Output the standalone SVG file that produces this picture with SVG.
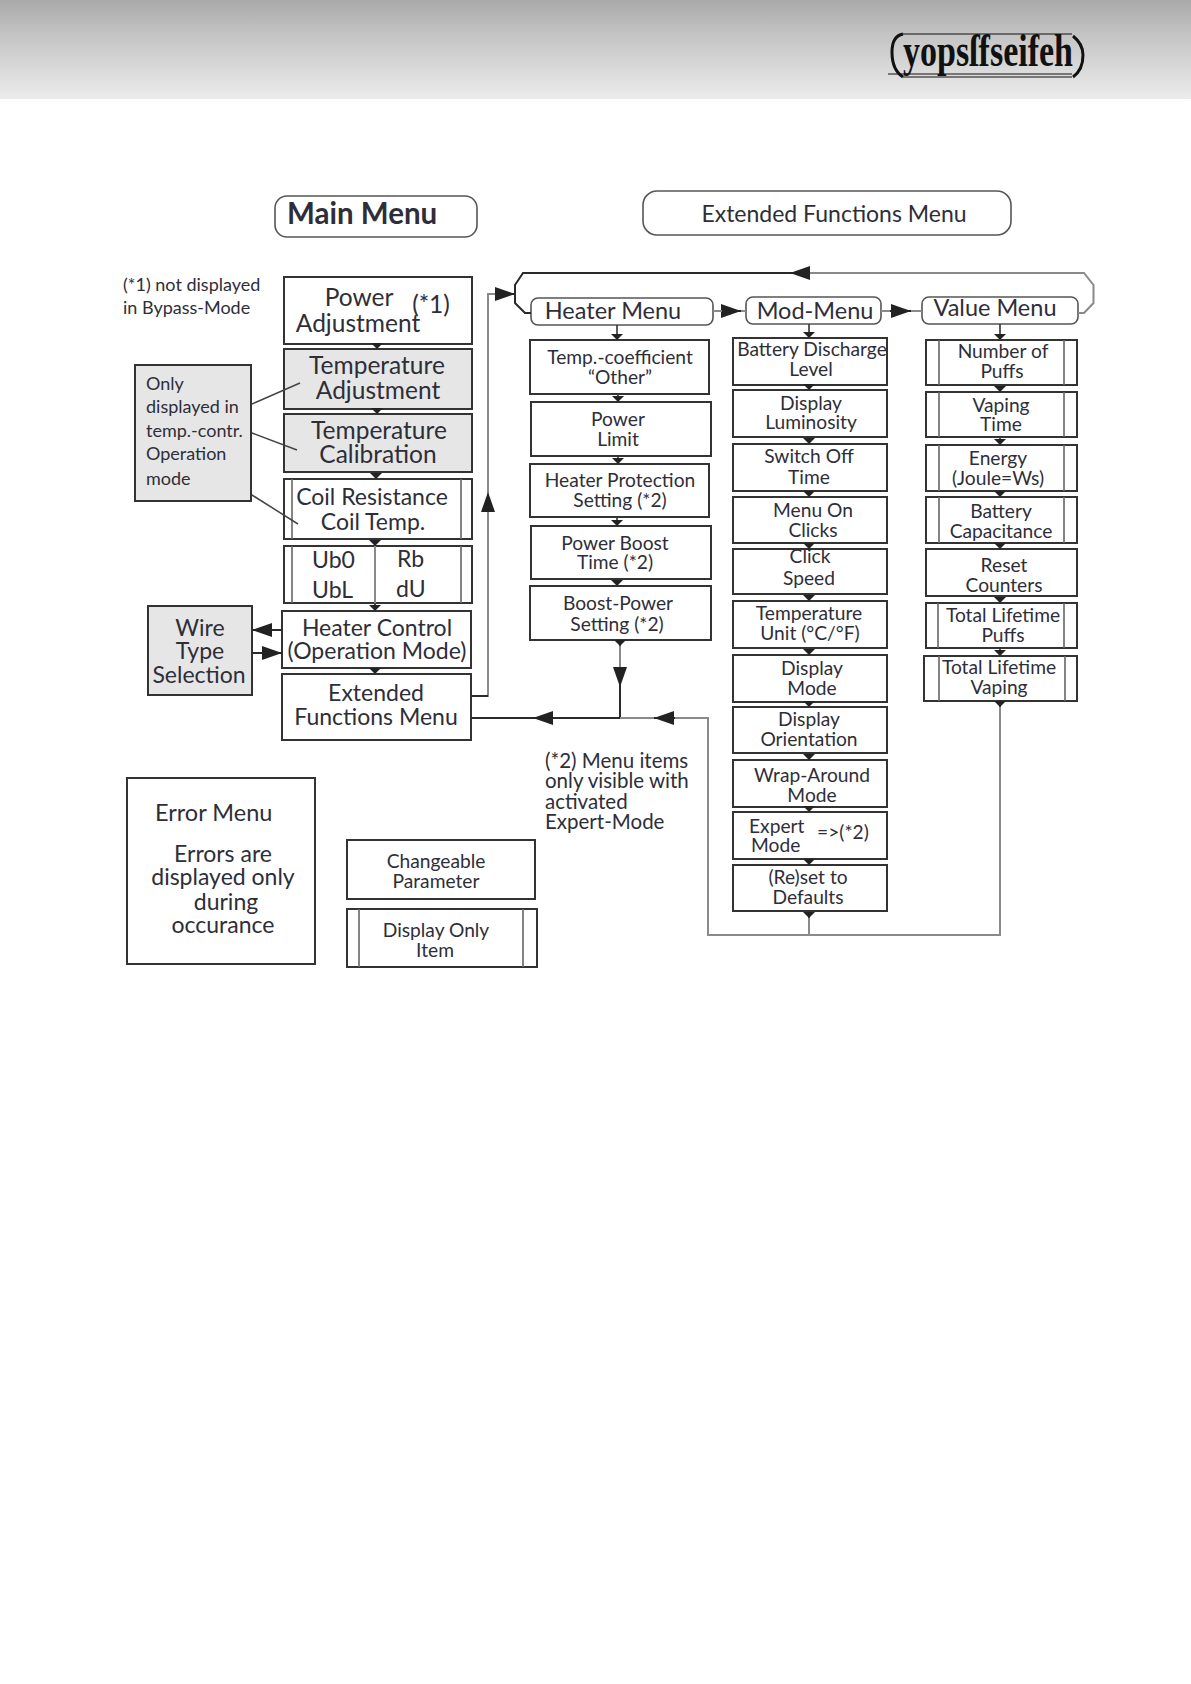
<svg xmlns="http://www.w3.org/2000/svg" width="1191" height="1684" viewBox="0 0 1191 1684">
<style>
text{font-family:"Lato","Carlito","Liberation Sans",sans-serif;fill:#2e2e38;text-anchor:middle}
.b{fill:#fff;stroke:#333;stroke-width:2}
.g{fill:#e6e6e6;stroke:#333;stroke-width:2}
.r{fill:#fff;stroke:#555;stroke-width:1.600}
.i{fill:none;stroke:#666;stroke-width:1.600}
.s{text-anchor:start}
.f24{font-size:24.500px}.f23{font-size:23.500px}.f22{font-size:23px}.f19{font-size:20.500px}.f18{font-size:19.200px}.f17{font-size:18px}
.c{fill:none;stroke:#8a8a8a;stroke-width:2}
.d{fill:none;stroke:#2a2a2a;stroke-width:2}
.k{fill:none;stroke:#333;stroke-width:1.600;marker-end:url(#sm)}
.l{fill:none;stroke:#444;stroke-width:1.500}
</style>
<defs>
<linearGradient id="hdr" x1="0" y1="0" x2="0" y2="1"><stop offset="0" stop-color="#a9a9a9"/><stop offset="0.35" stop-color="#c4c4c4"/><stop offset="1" stop-color="#ececec"/></linearGradient>
<marker id="sm" markerUnits="userSpaceOnUse" markerWidth="6" markerHeight="12" refX="6" refY="6" orient="auto"><path d="M0 0L6 6L0 12z" fill="#222"/></marker>
<marker id="bg" markerUnits="userSpaceOnUse" markerWidth="20" markerHeight="14" refX="20" refY="7" orient="auto"><path d="M0 0L20 7L0 14z" fill="#222"/></marker>
</defs>
<g id="header">
<rect x="0" y="0" width="1191" height="99" fill="url(#hdr)"/>
<path d="M903 34H1072M888 74H1072M903 77H1072" fill="none" stroke="#111" stroke-width="1.200"/>
<path d="M903 34Q892 36 892 52Q892 70 903 77M1073 36Q1083 44 1083 55Q1083 70 1073 77" fill="none" stroke="#111" stroke-width="3"/>
<text x="988" y="66" font-size="46" font-weight="700" textLength="170" lengthAdjust="spacingAndGlyphs" style="font-family:'Liberation Serif',serif;fill:#111">yopsſfseifeh</text>
</g>

<g id="main-menu-title"><rect class="r" x="275" y="196" width="202" height="41" rx="12"/><text class="s" x="287" y="224" font-size="29.500" font-weight="700">Main Menu</text></g>
<g id="ext-menu-title"><rect class="r" x="643" y="191" width="368" height="44" rx="14"/><text class="f22" x="834" y="222">Extended Functions Menu</text></g>
<g id="note1"><text class="s f17" x="123" y="291">(*1) not displayed</text><text class="s f17" x="123" y="314">in Bypass-Mode</text></g>

<g id="power-adjustment"><rect class="b" x="284" y="277" width="188" height="67"/><text class="f24" x="359" y="306">Power</text><text class="f24" x="358" y="332">Adjustment</text><text class="f24" x="431" y="313">(*1)</text></g>
<g id="temp-adjustment"><rect class="g" x="284" y="349" width="188" height="60"/><text class="f24" x="377" y="374">Temperature</text><text class="f24" x="378" y="399">Adjustment</text></g>
<g id="temp-calibration"><rect class="g" x="284" y="414" width="188" height="58"/><text class="f24" x="379" y="439">Temperature</text><text class="f24" x="378" y="463">Calibration</text></g>
<g id="coil"><rect class="b" x="284" y="479" width="188" height="60"/><path class="i" d="M292 479V539M461 479V539"/><text class="f22" x="372" y="505">Coil Resistance</text><text class="f22" x="373" y="530">Coil Temp.</text></g>
<g id="ub"><rect class="b" x="284" y="546" width="188" height="57"/><path class="i" d="M292 546V603M461 546V603"/><text class="f22 s" x="312" y="568">Ub0</text><text class="f22 s" x="397" y="567">Rb</text><text class="f22 s" x="312" y="598">UbL</text><text class="f22 s" x="396" y="597">dU</text></g>
<g id="only-note"><rect class="g" x="135" y="365" width="116" height="136"/><text class="s f17" x="146" y="390">Only</text><text class="s f17" x="146" y="413">displayed in</text><text class="s f17" x="146" y="437">temp.-contr.</text><text class="s f17" x="146" y="460">Operation</text><text class="s f17" x="146" y="485">mode</text></g>
<g id="wire-type"><rect class="g" x="148" y="606" width="104" height="89"/><text class="f22" x="200" y="636">Wire</text><text class="f22" x="200" y="659">Type</text><text class="f22" x="199" y="683">Selection</text></g>
<g id="heater-control"><rect class="b" x="282" y="611" width="189" height="57"/><text class="f22" x="377" y="636">Heater Control</text><text class="f22" x="377" y="659">(Operation Mode)</text></g>
<g id="extended-functions"><rect class="b" x="282" y="674" width="189" height="66"/><text class="f22" x="376" y="701">Extended</text><text class="f22" x="376" y="725">Functions Menu</text></g>
<g id="error-menu"><rect class="b" x="127" y="778" width="188" height="186"/><text class="f23 s" x="155" y="821">Error Menu</text><text class="f22" x="223" y="862">Errors are</text><text class="f22" x="223" y="885">displayed only</text><text class="f22" x="226" y="910">during</text><text class="f22" x="223" y="933">occurance</text></g>
<g id="legend-changeable"><rect class="b" x="347" y="840" width="188" height="59"/><text class="f18" x="436" y="868">Changeable</text><text class="f18" x="436" y="888">Parameter</text></g>
<g id="legend-display"><rect class="b" x="347" y="909" width="190" height="58"/><path class="i" d="M359 909V967M523 909V967"/><text class="f18" x="436" y="937">Display Only</text><text class="f18" x="435" y="957">Item</text></g>
<g id="note2"><text class="s f19" x="545" y="768">(*2) Menu items</text><text class="s f19" x="545" y="788">only visible with</text><text class="s f19" x="545" y="809">activated</text><text class="s f19" x="545" y="829">Expert-Mode</text></g>

<g id="heater-menu"><rect class="r" x="531" y="298" width="182" height="27" rx="7"/><text class="f23" x="613" y="319">Heater Menu</text></g>
<g id="mod-menu"><rect class="r" x="746" y="297" width="135" height="27" rx="7"/><text class="f23" x="815" y="319">Mod-Menu</text></g>
<g id="value-menu"><rect class="r" x="922" y="297" width="156" height="27" rx="7"/><text class="f23" x="995" y="316">Value Menu</text></g>

<g id="h1"><rect class="b" x="530" y="340" width="179" height="54"/><text class="f18" x="620" y="364">Temp.-coefficient</text><text class="f18" x="620" y="384">“Other”</text></g>
<g id="h2"><rect class="b" x="531" y="402" width="180" height="54"/><text class="f18" x="618" y="426">Power</text><text class="f18" x="618" y="446">Limit</text></g>
<g id="h3"><rect class="b" x="530" y="464" width="179" height="53"/><text class="f18" x="620" y="487">Heater Protection</text><text class="f18" x="620" y="507">Setting (*2)</text></g>
<g id="h4"><rect class="b" x="531" y="526" width="180" height="53"/><text class="f18" x="615" y="550">Power Boost</text><text class="f18" x="615" y="569">Time (*2)</text></g>
<g id="h5"><rect class="b" x="530" y="586" width="181" height="54"/><text class="f18" x="618" y="610">Boost-Power</text><text class="f18" x="617" y="631">Setting (*2)</text></g>

<g id="m1"><rect class="b" x="733" y="338" width="154" height="47"/><text class="f18" x="812" y="356">Battery Discharge</text><text class="f18" x="811" y="376">Level</text></g>
<g id="m2"><rect class="b" x="733" y="390" width="154" height="47"/><text class="f18" x="811" y="410">Display</text><text class="f18" x="811" y="429">Luminosity</text></g>
<g id="m3"><rect class="b" x="733" y="444" width="154" height="47"/><text class="f18" x="809" y="463">Switch Off</text><text class="f18" x="809" y="484">Time</text></g>
<g id="m4"><rect class="b" x="733" y="497" width="154" height="46"/><text class="f18" x="813" y="517">Menu On</text><text class="f18" x="813" y="537">Clicks</text></g>
<g id="m5"><rect class="b" x="733" y="549" width="154" height="45"/><text class="f18" x="810" y="563">Click</text><text class="f18" x="809" y="585">Speed</text></g>
<g id="m6"><rect class="b" x="733" y="601" width="154" height="47"/><text class="f18" x="809" y="620">Temperature</text><text class="f18" x="810" y="640">Unit (°C/°F)</text></g>
<g id="m7"><rect class="b" x="733" y="655" width="154" height="47"/><text class="f18" x="812" y="675">Display</text><text class="f18" x="812" y="695">Mode</text></g>
<g id="m8"><rect class="b" x="733" y="707" width="154" height="46"/><text class="f18" x="809" y="726">Display</text><text class="f18" x="809" y="746">Orientation</text></g>
<g id="m9"><rect class="b" x="733" y="760" width="154" height="47"/><text class="f18" x="812" y="782">Wrap-Around</text><text class="f18" x="812" y="802">Mode</text></g>
<g id="m10"><rect class="b" x="733" y="812" width="154" height="47"/><text class="f18 s" x="749" y="833">Expert</text><text class="f18 s" x="751" y="852">Mode</text><text class="f18 s" x="817" y="839">=&gt;(*2)</text></g>
<g id="m11"><rect class="b" x="733" y="865" width="154" height="46"/><text class="f18" x="808" y="884">(Re)set to</text><text class="f18" x="808" y="904">Defaults</text></g>

<g id="v1"><rect class="b" x="926" y="340" width="151" height="45"/><path class="i" d="M939 340V385M1064 340V385"/><text class="f18" x="1003" y="358">Number of</text><text class="f18" x="1002" y="378">Puffs</text></g>
<g id="v2"><rect class="b" x="926" y="392" width="151" height="45"/><path class="i" d="M939 392V437M1064 392V437"/><text class="f18" x="1001" y="412">Vaping</text><text class="f18" x="1001" y="431">Time</text></g>
<g id="v3"><rect class="b" x="926" y="445" width="151" height="46"/><path class="i" d="M939 445V491M1064 445V491"/><text class="f18" x="998" y="465">Energy</text><text class="f18" x="998" y="485">(Joule=Ws)</text></g>
<g id="v4"><rect class="b" x="926" y="497" width="151" height="46"/><path class="i" d="M939 497V543M1064 497V543"/><text class="f18" x="1001" y="518">Battery</text><text class="f18" x="1001" y="538">Capacitance</text></g>
<g id="v5"><rect class="b" x="926" y="549" width="151" height="47"/><text class="f18" x="1004" y="572">Reset</text><text class="f18" x="1004" y="592">Counters</text></g>
<g id="v6"><rect class="b" x="926" y="603" width="151" height="45"/><path class="i" d="M938 603V648M1064 603V648"/><text class="f18" x="1003" y="622">Total Lifetime</text><text class="f18" x="1003" y="642">Puffs</text></g>
<g id="v7"><rect class="b" x="924" y="656" width="153" height="45"/><path class="i" d="M939 656V701M1065 656V701"/><text class="f18" x="999" y="674">Total Lifetime</text><text class="f18" x="999" y="694">Vaping</text></g>

<g id="connectors">
<path class="k" d="M377 344V349"/><path class="k" d="M377 409V414"/><path class="k" d="M376 472V479"/><path class="k" d="M375 539V546"/><path class="c" d="M375 546V605"/><path class="k" d="M375 603V611"/><path class="k" d="M375 668V674"/>
<path class="l" d="M252 404L300 383M252 433L297 450M252 495L298 524"/>
<path class="d" d="M282 630H252" marker-end="url(#bg)"/>
<path class="d" d="M252 653H282" marker-end="url(#bg)"/>
<path class="c" d="M471 696H488V294H497"/>
<path class="d" d="M471 696H488"/>
<path class="d" d="M496 294H515" marker-end="url(#bg)"/>
<path class="c" d="M488 512V492" marker-end="url(#bg)"/>
<path class="d" d="M471 718H620V687"/>
<path class="d" d="M553 718H533" marker-end="url(#bg)"/>
<path class="c" d="M620 640V670"/>
<path class="d" d="M620 667V687" marker-end="url(#bg)"/>
<path class="c" d="M620 718H708V935H1000V704"/>
<path class="d" d="M675 718H654" marker-end="url(#bg)"/>
<path class="c" d="M809 935V912"/>
<path class="k" d="M809 912V918"/><path class="k" d="M1000 701V707"/><path class="k" d="M620 640V646"/>
<path class="c" d="M1078 313H1084L1093.500 303V285L1084 273H810"/>
<path class="d" d="M810 273H523L515 285V303L525 313H531"/>
<path class="d" d="M810 273H790" marker-end="url(#bg)"/>
<path class="d" d="M721 311H741" marker-end="url(#bg)"/>
<path class="c" d="M713 311H722M741 311H746"/>
<path class="c" d="M881 311H890"/>
<path class="d" d="M890 311H911" marker-end="url(#bg)"/>
<path class="c" d="M911 311H922"/>
<path class="k" d="M617 325V340"/><path class="k" d="M618 394V402"/><path class="k" d="M618 456V464"/><path class="k" d="M617 517V526"/><path class="k" d="M617 579V586"/>
<path class="k" d="M809 324V338"/><path class="k" d="M809 385V390"/><path class="k" d="M809 437V444"/><path class="k" d="M809 491V497"/><path class="k" d="M809 543V549"/><path class="k" d="M809 594V601"/><path class="k" d="M809 648V655"/><path class="k" d="M809 702V707"/><path class="k" d="M809 753V760"/><path class="k" d="M809 807V812"/><path class="k" d="M809 859V865"/>
<path class="k" d="M1000 324V340"/><path class="k" d="M1000 385V392"/><path class="k" d="M1000 437V445"/><path class="k" d="M1000 491V497"/><path class="k" d="M1000 543V549"/><path class="k" d="M1000 596V603"/><path class="k" d="M1000 648V656"/>
</g>
</svg>
